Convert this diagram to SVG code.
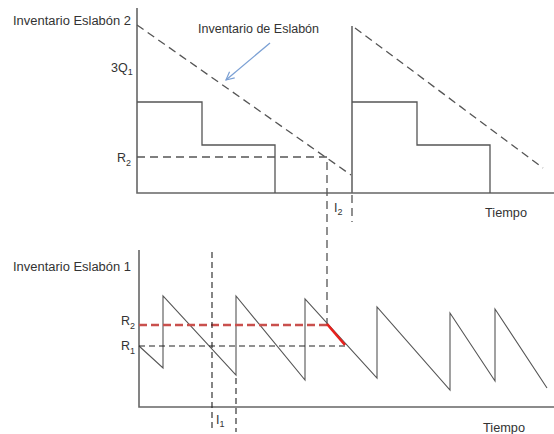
<svg xmlns="http://www.w3.org/2000/svg" width="554" height="434" viewBox="0 0 554 434">
<defs>
<style>
.ax{stroke:#666;stroke-width:1.6;fill:none}
.ln{stroke:#555;stroke-width:1.3;fill:none}
.saw{stroke:#555;stroke-width:1.1;fill:none}
.ds{stroke:#555;stroke-width:1.3;fill:none;stroke-dasharray:8 5}
.dk{stroke:#222;stroke-width:1.1;fill:none;stroke-dasharray:6 4}
.red{stroke:#c9504d;stroke-width:2.4;fill:none;stroke-dasharray:8 4}
.t{font-family:"Liberation Sans",Arial,sans-serif;font-size:12.5px;fill:#333}
.s{font-size:9px}
</style>
<marker id="ah" markerWidth="10" markerHeight="10" refX="9" refY="5" orient="auto" markerUnits="userSpaceOnUse">
<path d="M1,1 L9,5 L1,9" fill="none" stroke="#7ba0d4" stroke-width="1.2"/>
</marker>
</defs>
<rect width="554" height="434" fill="#fff"/>
<g id="top-chart">
<path class="ax" d="M137,8 V193 H554"/>
<path class="ax" d="M352,26 V193"/>
<path class="ln" d="M137,102 H202 V145 H275 V193"/>
<path class="ln" d="M352,102 H417 V145 H490 V193"/>
<path class="ds" d="M137,25 L351,175"/>
<path class="ds" d="M355,28 L543,168"/>
<path class="ds" d="M137,157 H327 V325"/>
<path class="ds" d="M352,195 V222"/>
</g>
<g id="bottom-chart">
<path class="ax" d="M139,250 V407 H554"/>
<path class="saw" d="M139,346 L163,368 V296 L236,375 V296 L305,380 V299 L377,378 V307 L450,390 V313 L495,381 V309 L547,388"/>
<path class="red" d="M139,325 H327"/>
<path class="dk" d="M139,346 H349"/>
<path d="M327,324 L345,345" stroke="#e8201c" stroke-width="2.6" fill="none"/>
<path class="dk" d="M212,252 V432"/>
<path class="dk" d="M236,378 V432"/>
</g>
<g id="connectors">
<path d="M270,43 L226,80" stroke="#7ba0d4" stroke-width="1.3" fill="none" marker-end="url(#ah)"/>
</g>
<g id="labels">
<text class="t" x="13" y="25" textLength="118" lengthAdjust="spacingAndGlyphs">Inventario Eslabón 2</text>
<text class="t" x="111" y="72">3Q<tspan class="s" dy="3">1</tspan></text>
<text class="t" x="117" y="162">R<tspan class="s" dy="4">2</tspan></text>
<text class="t" x="198" y="33" textLength="121" lengthAdjust="spacingAndGlyphs">Inventario de Eslabón</text>
<text class="t" x="485" y="217" style="font-size:13px" textLength="42" lengthAdjust="spacingAndGlyphs">Tiempo</text>
<text class="t" x="334" y="212">I<tspan class="s" dy="3">2</tspan></text>
<text class="t" x="13" y="271" textLength="118" lengthAdjust="spacingAndGlyphs">Inventario Eslabón 1</text>
<text class="t" x="121" y="325">R<tspan class="s" dy="4">2</tspan></text>
<text class="t" x="121" y="350">R<tspan class="s" dy="4">1</tspan></text>
<text class="t" x="216" y="424">I<tspan class="s" dy="3">1</tspan></text>
<text class="t" x="483" y="432" style="font-size:13px" textLength="42" lengthAdjust="spacingAndGlyphs">Tiempo</text>
</g>
</svg>
